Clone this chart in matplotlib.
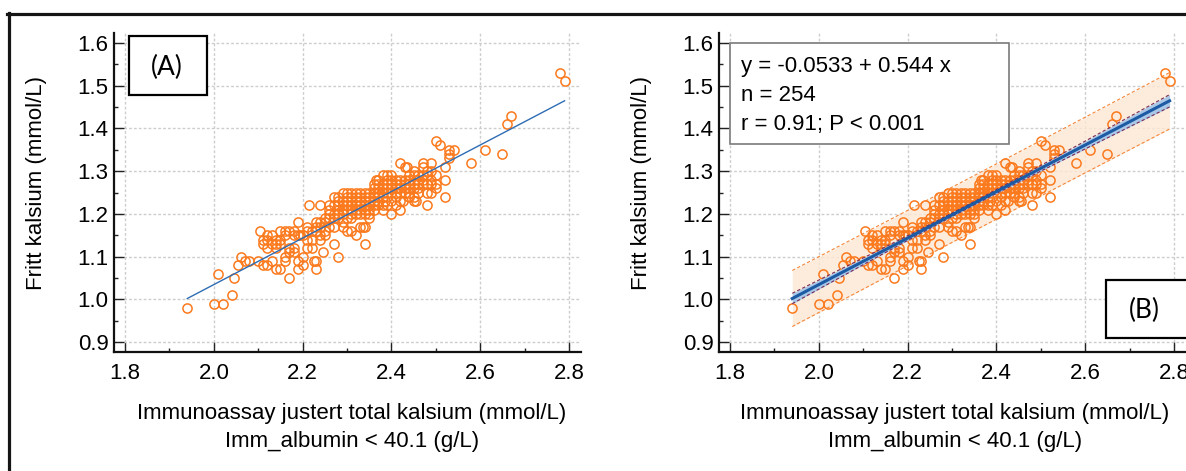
import numpy as np
import matplotlib
matplotlib.use("Agg")
import matplotlib.pyplot as plt
from matplotlib.patches import Rectangle
from matplotlib.lines import Line2D
from matplotlib.ticker import MultipleLocator, FormatStrFormatter

plt.rcParams['font.family'] = ['Liberation Sans', 'DejaVu Sans']

# ---------------- data ----------------
total_ca = [
    1.94, 2.00, 2.02, 2.01, 2.04, 2.045, 2.06, 2.055, 2.07, 2.08,
    2.105, 2.11, 2.11, 2.12, 2.12, 2.10, 2.11, 2.12, 2.13, 2.13,
    2.14, 2.14, 2.15, 2.16, 2.15, 2.14, 2.15, 2.16, 2.16, 2.17,
    2.17, 2.18, 2.17, 2.19, 2.19, 2.195, 2.18, 2.18, 2.19, 2.19,
    2.20, 2.20, 2.21, 2.21, 2.21, 2.215, 2.22, 2.22, 2.23, 2.23,
    2.225, 2.23, 2.23, 2.24, 2.24, 2.24, 2.24, 2.245, 2.25, 2.25,
    2.25, 2.26, 2.26, 2.26, 2.27, 2.27, 2.27, 2.27, 2.28, 2.28,
    2.28, 2.28, 2.28, 2.29, 2.29, 2.29, 2.29, 2.30, 2.30, 2.30,
    2.30, 2.30, 2.31, 2.31, 2.31, 2.31, 2.31, 2.32, 2.32, 2.32,
    2.32, 2.33, 2.33, 2.33, 2.335, 2.33, 2.34, 2.34, 2.34, 2.34,
    2.35, 2.35, 2.35, 2.35, 2.35, 2.36, 2.36, 2.36, 2.36, 2.365,
    2.37, 2.37, 2.37, 2.37, 2.38, 2.38, 2.38, 2.38, 2.38, 2.385,
    2.39, 2.39, 2.39, 2.39, 2.40, 2.40, 2.40, 2.40, 2.41, 2.41,
    2.41, 2.41, 2.41, 2.42, 2.42, 2.42, 2.425, 2.42, 2.42, 2.43,
    2.43, 2.43, 2.435, 2.44, 2.44, 2.44, 2.44, 2.44, 2.45, 2.45,
    2.45, 2.45, 2.455, 2.46, 2.46, 2.46, 2.47, 2.47, 2.47, 2.47,
    2.48, 2.48, 2.48, 2.48, 2.49, 2.49, 2.49, 2.49, 2.50, 2.50,
    2.50, 2.51, 2.52, 2.52, 2.52, 2.53, 2.53, 2.53, 2.54, 2.58,
    2.61, 2.65, 2.66, 2.67, 2.78, 2.79,
    2.12, 2.13, 2.14, 2.15, 2.16, 2.17, 2.18, 2.20, 2.21, 2.22,
    2.23, 2.24, 2.25, 2.26, 2.27, 2.27, 2.28, 2.28, 2.29, 2.29,
    2.30, 2.30, 2.31, 2.31, 2.32, 2.32, 2.32, 2.33, 2.33, 2.34,
    2.34, 2.34, 2.35, 2.35, 2.36, 2.36, 2.37, 2.37, 2.38, 2.38,
    2.39, 2.39, 2.40, 2.40, 2.40, 2.41, 2.42, 2.42, 2.43, 2.43,
    2.44, 2.45, 2.45, 2.46, 2.46, 2.47, 2.48, 2.48, 2.49, 2.50,
    2.33, 2.31, 2.29, 2.26, 2.36, 2.37, 2.39, 2.34,
]
free_ca = [
    0.98, 0.99, 0.99, 1.06, 1.01, 1.05, 1.10, 1.08, 1.09, 1.09,
    1.16, 1.14, 1.13, 1.12, 1.15, 1.09, 1.08, 1.08, 1.09, 1.13,
    1.12, 1.14, 1.16, 1.16, 1.13, 1.07, 1.07, 1.10, 1.09, 1.11,
    1.16, 1.15, 1.05, 1.18, 1.15, 1.15, 1.12, 1.11, 1.07, 1.09,
    1.08, 1.10, 1.12, 1.16, 1.17, 1.22, 1.12, 1.14, 1.17, 1.07,
    1.09, 1.09, 1.18, 1.17, 1.15, 1.14, 1.22, 1.11, 1.19, 1.16,
    1.15, 1.21, 1.20, 1.19, 1.13, 1.22, 1.20, 1.17, 1.24, 1.19,
    1.10, 1.20, 1.23, 1.25, 1.22, 1.18, 1.17, 1.21, 1.23, 1.16,
    1.19, 1.25, 1.22, 1.20, 1.16, 1.24, 1.21, 1.25, 1.23, 1.15,
    1.20, 1.17, 1.24, 1.22, 1.17, 1.20, 1.13, 1.17, 1.23, 1.24,
    1.21, 1.19, 1.24, 1.25, 1.20, 1.22, 1.26, 1.27, 1.23, 1.28,
    1.25, 1.24, 1.26, 1.28, 1.22, 1.29, 1.25, 1.21, 1.27, 1.23,
    1.28, 1.24, 1.26, 1.29, 1.20, 1.23, 1.25, 1.27, 1.22, 1.28,
    1.26, 1.24, 1.27, 1.23, 1.32, 1.21, 1.23, 1.26, 1.25, 1.28,
    1.27, 1.31, 1.31, 1.27, 1.28, 1.25, 1.24, 1.29, 1.24, 1.29,
    1.23, 1.30, 1.23, 1.26, 1.28, 1.27, 1.32, 1.29, 1.31, 1.28,
    1.27, 1.27, 1.22, 1.30, 1.32, 1.30, 1.27, 1.25, 1.29, 1.37,
    1.26, 1.36, 1.24, 1.28, 1.31, 1.33, 1.34, 1.35, 1.35, 1.32,
    1.35, 1.34, 1.41, 1.43, 1.53, 1.51,
    1.14, 1.15, 1.13, 1.14, 1.15, 1.12, 1.16, 1.15, 1.14, 1.16,
    1.16, 1.18, 1.18, 1.17, 1.19, 1.24, 1.21, 1.22, 1.20, 1.23,
    1.24, 1.22, 1.25, 1.19, 1.21, 1.24, 1.22, 1.21, 1.25, 1.21,
    1.22, 1.20, 1.22, 1.23, 1.24, 1.25, 1.27, 1.22, 1.24, 1.26,
    1.25, 1.27, 1.26, 1.28, 1.29, 1.25, 1.27, 1.28, 1.26, 1.25,
    1.26, 1.27, 1.26, 1.29, 1.25, 1.27, 1.29, 1.25, 1.28, 1.27,
    1.23, 1.23, 1.21, 1.22, 1.21, 1.23, 1.22, 1.25,
]
intercept = -0.0533
slope = 0.544
stats_lines = ["y = -0.0533 + 0.544 x", "n = 254", "r = 0.91; P < 0.001"]
x_label = "Immunoassay justert total kalsium (mmol/L)"
x_label2 = "Imm_albumin < 40.1 (g/L)"
y_label = "Fritt kalsium (mmol/L)"

x = np.array(total_ca)
y = np.array(free_ca)

# ---------------- figure ----------------
W, H = 1186, 471
fig = plt.figure(figsize=(W / 100, H / 100), dpi=100)

def fx(px):
    return px / W

def fy(py):
    return 1 - py / H

ORANGE = '#fb7a1e'
FS = 16

def setup(ax):
    ax.set_xlim(1.775, 2.827)
    ax.set_ylim(0.877, 1.623)
    ax.xaxis.set_major_locator(MultipleLocator(0.2))
    ax.xaxis.set_minor_locator(MultipleLocator(0.1))
    ax.yaxis.set_major_locator(MultipleLocator(0.1))
    ax.yaxis.set_minor_locator(MultipleLocator(0.05))
    ax.xaxis.set_major_formatter(FormatStrFormatter('%.1f'))
    ax.yaxis.set_major_formatter(FormatStrFormatter('%.1f'))
    for s in ['top', 'right']:
        ax.spines[s].set_visible(False)
    for s in ['left', 'bottom']:
        ax.spines[s].set_linewidth(1.6)
        ax.spines[s].set_color('#111111')
    ax.tick_params(which='major', direction='in', length=7.5, width=1.0,
                   color='#222222', labelsize=FS)
    ax.tick_params(which='minor', direction='in', length=3, width=1.0,
                   color='#222222')
    ax.tick_params(axis='x', which='major', pad=8)
    ax.tick_params(axis='y', which='major', pad=4)
    ax.set_axisbelow(True)
    ax.grid(True, which='major', color='#cdcdcd', linestyle=(0, (2, 1.5)),
            linewidth=1.0)

rect_h = 319 / H
axA = fig.add_axes([fx(114), fy(352), 467 / W, rect_h])
axB = fig.add_axes([fx(719), fy(352), 467 / W, rect_h])
for ax in (axA, axB):
    setup(ax)

xl = np.linspace(x.min(), x.max(), 200)
yl = intercept + slope * xl

# Panel A
axA.plot(x, y, 'o', mfc='none', mec=ORANGE, mew=1.1, ms=6.6, zorder=3)
axA.plot(xl, yl, color='#2e6cb4', lw=1.0, zorder=4)

# Panel B: confidence & prediction bands
n = len(x)
res = y - (intercept + slope * x)
s = np.sqrt(np.sum(res ** 2) / (n - 2))
xbar = x.mean()
sxx = np.sum((x - xbar) ** 2)
t = 1.969
se_mean = s * np.sqrt(1 / n + (xl - xbar) ** 2 / sxx)
se_pred = s * np.sqrt(1 + 1 / n + (xl - xbar) ** 2 / sxx)

axB.fill_between(xl, yl - t * se_pred, yl + t * se_pred, color='#fde8d4',
                 alpha=0.8, lw=0, zorder=1)
axB.plot(xl, yl - t * se_pred, color='#f5873a', lw=0.8, ls=(0, (3, 2)), zorder=2)
axB.plot(xl, yl + t * se_pred, color='#f5873a', lw=0.8, ls=(0, (3, 2)), zorder=2)
axB.plot(x, y, 'o', mfc='none', mec=ORANGE, mew=1.1, ms=6.6, zorder=3)
axB.fill_between(xl, yl - t * se_mean, yl + t * se_mean, color='#a9c8e8',
                 lw=0, zorder=4)
axB.plot(xl, yl - t * se_mean, color='#7a2a55', lw=0.8, ls=(0, (3, 2)), zorder=5)
axB.plot(xl, yl + t * se_mean, color='#7a2a55', lw=0.8, ls=(0, (3, 2)), zorder=5)
axB.plot(xl, yl, color='#1c5aa3', lw=2.2, zorder=6)

# Labels
for cx, lx in ((352, 37), (955, 641)):
    fig.text(fx(cx), fy(419), x_label, ha='center', va='baseline', fontsize=FS)
    fig.text(fx(cx), fy(447), x_label2, ha='center', va='baseline', fontsize=FS)
    fig.text(fx(lx), fy(183), y_label, ha='center', va='center',
             rotation=90, fontsize=FS)

# (A) box
axA.add_patch(Rectangle((15 / 467, (352 - 95) / 319), 78 / 467, 59 / 319,
                        transform=axA.transAxes, facecolor='white',
                        edgecolor='black', lw=1.6, zorder=10))
axA.text((167 - 114) / 467, (352 - 67) / 319, "(A)", transform=axA.transAxes,
         ha='center', va='center', fontsize=19, family=['Lato', 'DejaVu Sans'],
         zorder=11)

# (B) box
axB.add_patch(Rectangle(((1106 - 719) / 467, (352 - 338) / 319), 0.3, 58 / 319,
                        transform=axB.transAxes, facecolor='white',
                        edgecolor='black', lw=1.6, zorder=10, clip_on=False))
axB.text((1144 - 719) / 467, (352 - 310) / 319, "(B)", transform=axB.transAxes,
         ha='center', va='center', fontsize=19, family=['Lato', 'DejaVu Sans'],
         zorder=11)

# stats box
axB.add_patch(Rectangle((11 / 467, (352 - 144) / 319), 279 / 467, 101 / 319,
                        transform=axB.transAxes, facecolor='white',
                        edgecolor='#7a7a7a', lw=1.2, zorder=10))
for i, line in enumerate(stats_lines):
    axB.text((741 - 719) / 467, (352 - (72 + 29 * i)) / 319, line,
             transform=axB.transAxes, ha='left', va='baseline', fontsize=FS,
             zorder=11)

# outer frame (top + left edges visible)
fig.add_artist(Line2D([fx(7), fx(W + 5)], [fy(13.5), fy(13.5)], color='#151515',
                      lw=2.3, transform=fig.transFigure))
fig.add_artist(Line2D([fx(8.5), fx(8.5)], [fy(12.5), fy(H + 5)], color='#151515',
                      lw=2.3, transform=fig.transFigure))

fig.savefig('out.png', dpi=100)
